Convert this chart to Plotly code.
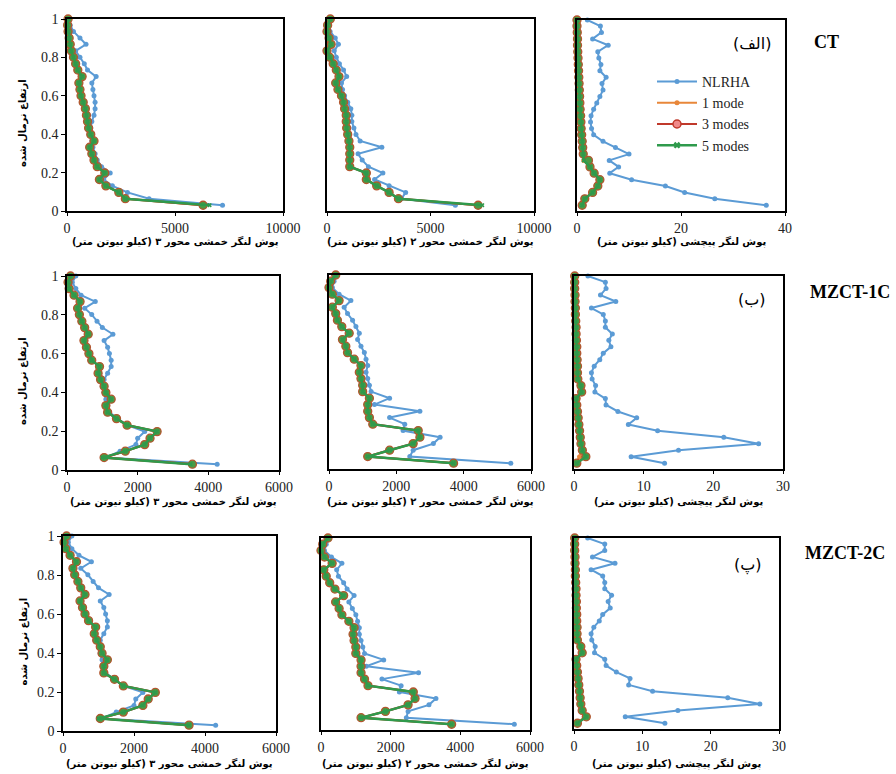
import plotly.graph_objects as go

# ---------------- data (values listed from bottom level to top level) ----------------
LEVELS = [0.03, 0.064, 0.097, 0.131, 0.164, 0.198, 0.231, 0.265, 0.298, 0.332,
          0.365, 0.399, 0.432, 0.466, 0.499, 0.533, 0.566, 0.6, 0.633, 0.667,
          0.7, 0.734, 0.767, 0.801, 0.834, 0.868, 0.901, 0.935, 0.968, 1.0]

# CT - axis 3 moment
p1_nlrha = [7200, 3800, 2800, 2100, 1700, 2000, 1600, 1400, 1300, 1200, 1150, 1100, 1100, 1150, 1250,
            1300, 1300, 1250, 1200, 1150, 1350, 950, 800, 600, 400, 880, 600, 300, 150, 100]
p1_m1 = [6250, 2700, 2400, 1800, 1500, 1750, 1400, 1250, 1150, 1050, 1250, 1100, 1000, 950, 900,
         850, 750, 650, 600, 550, 700, 500, 400, 300, 200, 150, 100, 50, 30, 50]
p1_m3 = [6300, 2700, 2400, 1800, 1500, 1750, 1400, 1250, 1150, 1050, 1250, 1100, 1000, 950, 900,
         850, 750, 650, 600, 550, 700, 500, 400, 300, 200, 150, 100, 50, 30, 50]
p1_m5 = [6600, 2700, 2400, 1800, 1500, 1750, 1400, 1250, 1150, 1050, 1250, 1100, 1000, 950, 900,
         850, 750, 650, 600, 550, 700, 500, 400, 300, 200, 150, 100, 50, 30, 50]

# CT - axis 2 moment
p2_nlrha = [6200, 3600, 3800, 3000, 2300, 2700, 2000, 1700, 1500, 2650, 1600, 1400, 1300, 1200, 1200,
            1150, 1000, 850, 750, 700, 950, 800, 600, 450, 350, 550, 400, 150, 100, 200]
p2_m1 = [7300, 3450, 3000, 2400, 1900, 1900, 1100, 1100, 1100, 1100, 1060, 1000, 950, 930, 930,
         850, 800, 700, 530, 420, 580, 450, 300, 130, 0, 200, 100, 0, 30, 160]
p2_m3 = [7300, 3450, 3000, 2400, 1900, 1900, 1100, 1100, 1100, 1100, 1060, 1000, 950, 930, 930,
         850, 800, 700, 530, 420, 580, 450, 300, 130, 0, 200, 100, 0, 30, 160]
p2_m5 = [7500, 3450, 3000, 2400, 1900, 1900, 1100, 1100, 1100, 1100, 1060, 1000, 950, 930, 930,
         850, 800, 700, 530, 420, 580, 450, 300, 130, 0, 200, 100, 0, 30, 160]

# CT - torsion
p3_nlrha = [36.4, 26.5, 20.7, 17, 10.5, 6.3, 8, 6.2, 10, 7.4, 5, 3.2, 2.8, 2.6, 2.7,
            3.2, 3.8, 4.4, 5, 4.8, 5.6, 4.4, 4.6, 4.2, 4, 6, 3, 4.7, 4.5, 2]
p3_m1 = [1.0, 1.4, 2.9, 3.9, 4.3, 3.2, 2.4, 1.3, 1.2, 1.1, 1.0, 0.9, 0.8, 0.75, 0.7,
         0.6, 0.55, 0.5, 0.45, 0.4, 0.35, 0.3, 0.25, 0.2, 0.15, 0.1, 0.1, 0.05, 0.0, 0.0]
p3_m3 = [1.0, 1.5, 3.0, 4.0, 4.4, 3.3, 2.5, 2.2, 1.2, 1.1, 1.0, 0.9, 0.8, 0.75, 0.7,
         0.6, 0.55, 0.5, 0.45, 0.4, 0.35, 0.3, 0.25, 0.2, 0.15, 0.1, 0.1, 0.05, 0.0, 0.0]
p3_m5 = [1.0, 1.5, 3.0, 4.0, 4.4, 3.3, 2.5, 1.3, 1.2, 1.1, 1.0, 0.9, 0.8, 0.75, 0.7,
         0.6, 0.55, 0.5, 0.45, 0.4, 0.35, 0.3, 0.25, 0.2, 0.15, 0.1, 0.1, 0.05, 0.0, 0.0]

# MZCT-1C - axis 3 moment
p4_nlrha = [4250, 1100, 1500, 1950, 2000, 2200, 1700, 1450, 1200, 1150, 1100, 1050, 1000, 1050, 1150,
            1250, 1250, 1200, 1150, 1050, 1300, 1000, 850, 700, 500, 800, 400, 250, 150, 250]
p4_m1 = [3550, 1050, 1650, 2200, 2350, 2550, 1700, 1400, 1150, 1100, 1250, 1100, 1050, 950, 880,
         920, 700, 620, 550, 480, 600, 500, 420, 350, 300, 370, 200, 60, 30, 100]
p4_m3 = [3550, 1050, 1650, 2200, 2350, 2550, 1700, 1400, 1150, 1100, 1250, 1100, 1050, 950, 880,
         920, 700, 620, 550, 480, 600, 500, 420, 350, 300, 370, 200, 60, 30, 100]
p4_m5 = [3500, 1000, 1650, 2200, 2350, 2550, 1700, 1400, 1150, 1100, 1250, 1100, 1050, 950, 880,
         920, 700, 620, 550, 480, 600, 500, 420, 350, 300, 370, 200, 60, 30, 100]

# MZCT-1C - axis 2 moment
p5_nlrha = [5400, 2400, 2500, 3100, 3300, 2200, 2250, 1800, 2700, 1350, 1800, 1250, 1200, 1150, 1100,
            1150, 1100, 1050, 950, 850, 900, 800, 700, 550, 450, 650, 300, 100, 150, 250]
p5_m1 = [3700, 1150, 1800, 2500, 2700, 2650, 1300, 1200, 1150, 1150, 1200, 1000, 1000, 950, 900,
         950, 750, 550, 500, 400, 600, 380, 250, 200, 100, 300, 100, 0, 50, 200]
p5_m3 = [3700, 1150, 1800, 2500, 2700, 2650, 1300, 1200, 1150, 1150, 1200, 1000, 1000, 950, 900,
         950, 750, 550, 500, 400, 600, 380, 250, 200, 100, 300, 100, 0, 50, 200]
p5_m5 = [3700, 1150, 1800, 2500, 2700, 2650, 1300, 1200, 1150, 1150, 1200, 1000, 1000, 950, 900,
         950, 750, 550, 500, 400, 600, 380, 250, 200, 100, 300, 100, 0, 50, 200]

# MZCT-1C - torsion
p6_nlrha = [13, 8.2, 15, 26.5, 21.5, 12, 7.8, 9, 6.3, 4.6, 4.5, 3, 3.1, 2.6, 2.5,
            2.9, 3.7, 4.2, 5.3, 5, 5.5, 4.5, 4.5, 4.2, 2.5, 6, 3.8, 4.6, 4.5, 2]
p6_m1 = [0.3, 0.8, 1.1, 1.0, 0.9, 0.8, 0.7, 0.6, 0.5, 0.4, 0.3, 1.1, 1.0, 0.55, 0.5,
         0.5, 0.45, 0.4, 0.4, 0.35, 0.3, 0.3, 0.25, 0.2, 0.2, 0.15, 0.15, 0.1, 0.1, 0.1]
p6_m3 = [0.4, 1.7, 1.2, 1.0, 0.9, 0.8, 0.7, 0.6, 0.5, 0.4, 0.3, 1.1, 1.0, 0.55, 0.5,
         0.5, 0.45, 0.4, 0.4, 0.35, 0.3, 0.3, 0.25, 0.2, 0.2, 0.15, 0.15, 0.1, 0.1, 0.1]
p6_m5 = [0.4, 1.7, 1.2, 1.0, 0.9, 0.8, 0.7, 0.6, 0.5, 0.4, 0.3, 1.1, 1.0, 0.55, 0.5,
         0.5, 0.45, 0.4, 0.4, 0.35, 0.3, 0.3, 0.25, 0.2, 0.2, 0.15, 0.15, 0.1, 0.1, 0.1]

# MZCT-2C - axis 3 moment
p7_nlrha = [4300, 1100, 1500, 2000, 2050, 2250, 1700, 1450, 1200, 1150, 1100, 1050, 1000, 1050, 1150,
            1250, 1250, 1200, 1150, 1050, 1300, 1000, 850, 700, 500, 800, 450, 250, 150, 250]
p7_m1 = [3550, 1050, 1700, 2250, 2400, 2600, 1700, 1450, 1150, 1150, 1250, 1100, 1050, 950, 880,
         920, 720, 620, 550, 480, 620, 500, 420, 330, 280, 380, 200, 80, 30, 100]
p7_m3 = [3550, 1050, 1700, 2250, 2400, 2600, 1700, 1450, 1150, 1150, 1250, 1100, 1050, 950, 880,
         920, 720, 620, 550, 480, 620, 500, 420, 330, 280, 380, 200, 80, 30, 100]
p7_m5 = [3550, 1000, 1700, 2250, 2400, 2600, 1700, 1450, 1150, 1150, 1250, 1100, 1050, 950, 880,
         920, 720, 620, 550, 480, 620, 500, 420, 330, 280, 380, 200, 80, 30, 100]

# MZCT-2C - axis 2 moment
p8_nlrha = [5550, 2450, 2500, 3100, 3300, 2250, 2300, 1750, 2800, 1300, 1800, 1250, 1200, 1150, 1100,
            1100, 1050, 1000, 900, 800, 950, 750, 650, 500, 450, 600, 300, 100, 150, 250]
p8_m1 = [3750, 1150, 1850, 2500, 2700, 2650, 1350, 1250, 1150, 1150, 1150, 1000, 1000, 950, 920,
         950, 800, 600, 520, 420, 650, 400, 250, 150, 80, 320, 100, 0, 50, 200]
p8_m3 = [3750, 1150, 1850, 2500, 2700, 2650, 1350, 1250, 1150, 1150, 1150, 1000, 1000, 950, 920,
         950, 800, 600, 520, 420, 650, 400, 250, 150, 80, 320, 100, 0, 50, 200]
p8_m5 = [3750, 1150, 1850, 2500, 2700, 2650, 1350, 1250, 1150, 1150, 1150, 1000, 1000, 950, 920,
         950, 800, 600, 520, 420, 650, 400, 250, 150, 80, 320, 100, 0, 50, 200]

# MZCT-2C - torsion
p9_nlrha = [13.3, 7.5, 15.2, 27.2, 22.5, 11.5, 8, 8.2, 6.2, 4.7, 4.5, 3, 3.1, 2.6, 2.5,
            2.9, 3.7, 4.2, 5.3, 5, 5.5, 4.5, 4.5, 4.2, 2.5, 6, 2.7, 4.5, 4.5, 2]
p9_m1 = [0.4, 1.6, 1.2, 1.0, 0.9, 0.8, 0.7, 0.6, 0.5, 0.4, 0.3, 1.2, 1.0, 0.5, 0.45,
         0.45, 0.4, 0.4, 0.35, 0.35, 0.3, 0.3, 0.25, 0.2, 0.2, 0.15, 0.15, 0.1, 0.1, 0.1]
p9_m3 = [0.5, 1.8, 1.2, 1.0, 0.9, 0.8, 0.7, 0.6, 0.5, 0.4, 0.3, 1.2, 1.0, 0.5, 0.45,
         0.45, 0.4, 0.4, 0.35, 0.35, 0.3, 0.3, 0.25, 0.2, 0.2, 0.15, 0.15, 0.1, 0.1, 0.1]
p9_m5 = [0.5, 1.8, 1.2, 1.0, 0.9, 0.8, 0.7, 0.6, 0.5, 0.4, 0.3, 1.2, 1.0, 0.5, 0.45,
         0.45, 0.4, 0.4, 0.35, 0.35, 0.3, 0.3, 0.25, 0.2, 0.2, 0.15, 0.15, 0.1, 0.1, 0.1]

SERIES_NAMES = ["NLRHA", "1 mode", "3 modes", "5 modes"]
Y_TICKS = [0, 0.2, 0.4, 0.6, 0.8, 1]
X_TITLE_3 = "پوش لنگر خمشی محور ۳ (کیلو نیوتن متر)"
X_TITLE_2 = "پوش لنگر خمشی محور ۲ (کیلو نیوتن متر)"
X_TITLE_T = "پوش لنگر پیچشی (کیلو نیوتن متر)"
Y_TITLE = "ارتفاع نرمال شده"
ROW_LABELS = ["CT", "MZCT-1C", "MZCT-2C"]
PANEL_TAGS = ["(الف)", "(ب)", "(پ)"]

# ---------------- styling / layout ----------------
W, H = 896, 774
C_BLUE = "#5b9bd5"
C_ORANGE = "#e8873a"
C_RED = "#c0392b"
C_GREEN = "#2f9a4c"
SERIF = "Liberation Serif, Times New Roman, serif"
ARAB = "DejaVu Sans, Noto Sans, sans-serif"

panels = [
    dict(d=[p1_nlrha, p1_m1, p1_m3, p1_m5], xmax=10000, dt=5000, box=(67, 283, 19, 211), xt=X_TITLE_3, xty=242),
    dict(d=[p2_nlrha, p2_m1, p2_m3, p2_m5], xmax=10000, dt=5000, box=(327, 534, 19, 211), xt=X_TITLE_2, xty=242),
    dict(d=[p3_nlrha, p3_m1, p3_m3, p3_m5], xmax=40, dt=20, box=(577, 785, 20, 211), xt=X_TITLE_T, xty=242),
    dict(d=[p4_nlrha, p4_m1, p4_m3, p4_m5], xmax=6000, dt=2000, box=(67, 279, 276, 470), xt=X_TITLE_3, xty=501),
    dict(d=[p5_nlrha, p5_m1, p5_m3, p5_m5], xmax=6000, dt=2000, box=(329, 531, 275, 469), xt=X_TITLE_2, xty=501),
    dict(d=[p6_nlrha, p6_m1, p6_m3, p6_m5], xmax=30, dt=10, box=(574, 783, 276, 469), xt=X_TITLE_T, xty=501),
    dict(d=[p7_nlrha, p7_m1, p7_m3, p7_m5], xmax=6000, dt=2000, box=(63, 276, 536, 731), xt=X_TITLE_3, xty=763),
    dict(d=[p8_nlrha, p8_m1, p8_m3, p8_m5], xmax=6000, dt=2000, box=(321, 530, 538, 730), xt=X_TITLE_2, xty=763),
    dict(d=[p9_nlrha, p9_m1, p9_m3, p9_m5], xmax=30, dt=10, box=(574, 779, 538, 729), xt=X_TITLE_T, xty=763),
]

fig = go.Figure()
annotations = []


def py(pix):
    return 1 - pix / H


for i, p in enumerate(panels, start=1):
    sfx = "" if i == 1 else str(i)
    xa, ya = "x" + sfx, "y" + sfx
    nl, m1, m3, m5 = p["d"]
    common = dict(xaxis=xa, yaxis=ya, showlegend=False, cliponaxis=False, mode="lines+markers", hoverinfo="x+y")
    fig.add_trace(go.Scatter(x=nl, y=LEVELS, name=SERIES_NAMES[0], line=dict(color=C_BLUE, width=2),
                             marker=dict(size=5, color=C_BLUE), **common))
    fig.add_trace(go.Scatter(x=m1, y=LEVELS, name=SERIES_NAMES[1], line=dict(color=C_ORANGE, width=2),
                             marker=dict(size=5, color=C_ORANGE), **common))
    fig.add_trace(go.Scatter(x=m3, y=LEVELS, name=SERIES_NAMES[2], line=dict(color=C_RED, width=2.2),
                             marker=dict(size=8, color="#4a9a45", line=dict(color="#b4552e", width=1.3)), **common))
    fig.add_trace(go.Scatter(x=m5, y=LEVELS, name=SERIES_NAMES[3], line=dict(color=C_GREEN, width=2.5),
                             marker=dict(size=4, color=C_GREEN, symbol="x"), **common))

    l, r, t, b = p["box"]
    col = (i - 1) % 3
    fig.layout["xaxis" + sfx] = dict(
        domain=[l / W, r / W], anchor=ya, range=[0, p["xmax"]], tick0=0, dtick=p["dt"], tickformat="d",
        showline=True, linecolor="black", linewidth=1.5, mirror=True, ticks="outside", ticklen=3,
        tickcolor="black", showgrid=False, zeroline=False, automargin=False,
        tickfont=dict(family=SERIF, size=14, color="#222"))
    fig.layout["yaxis" + sfx] = dict(
        domain=[py(b), py(t)], anchor=xa, range=[0, 1], tickvals=Y_TICKS,
        showline=True, linecolor="black", linewidth=1.5, mirror=True,
        ticks="outside" if col == 0 else "", ticklen=4, tickcolor="black",
        showticklabels=(col == 0), showgrid=False, zeroline=False, automargin=False,
        tickfont=dict(family=SERIF, size=14, color="#222"))
    annotations.append(dict(text="<b>" + p["xt"] + "</b>", x=(l + r) / 2 / W, y=py(p["xty"]), xref="paper",
                            yref="paper", showarrow=False, xanchor="center", yanchor="middle",
                            font=dict(family=ARAB, size=10, color="black")))
    if col == 0:
        annotations.append(dict(text="<b>" + Y_TITLE + "</b>", x=23 / W, y=py((t + b) / 2 + 8), xref="paper",
                                yref="paper", showarrow=False, textangle=-90, xanchor="center",
                                yanchor="middle", font=dict(family=ARAB, size=10, color="black")))

# legend-only entries
fig.add_trace(go.Scatter(x=[None], y=[None], name=SERIES_NAMES[0], mode="lines+markers",
                         line=dict(color=C_BLUE, width=2), marker=dict(size=5, color=C_BLUE), xaxis="x3", yaxis="y3"))
fig.add_trace(go.Scatter(x=[None], y=[None], name=SERIES_NAMES[1], mode="lines+markers",
                         line=dict(color=C_ORANGE, width=2), marker=dict(size=5, color=C_ORANGE), xaxis="x3", yaxis="y3"))
fig.add_trace(go.Scatter(x=[None], y=[None], name=SERIES_NAMES[2], mode="lines+markers",
                         line=dict(color=C_RED, width=2.2),
                         marker=dict(size=8, color="#f08a8a", line=dict(color=C_RED, width=1.5)), xaxis="x3", yaxis="y3"))
fig.add_trace(go.Scatter(x=[None], y=[None], name=SERIES_NAMES[3], mode="lines+markers",
                         line=dict(color=C_GREEN, width=2.5),
                         marker=dict(size=6, color=C_GREEN, symbol="x"), xaxis="x3", yaxis="y3"))

row_label_pos = [(826, 42), (850, 292), (845, 553)]
tag_pos = [(752, 43), (752, 299), (748, 565)]
for (lbl, (lx, ly)), (tag, (tx, ty)) in zip(zip(ROW_LABELS, row_label_pos), zip(PANEL_TAGS, tag_pos)):
    annotations.append(dict(text="<b>" + lbl + "</b>", x=lx / W, y=py(ly), xref="paper", yref="paper",
                            showarrow=False, xanchor="center", yanchor="middle",
                            font=dict(family=SERIF, size=18, color="black")))
    annotations.append(dict(text=tag, x=tx / W, y=py(ty), xref="paper", yref="paper",
                            showarrow=False, xanchor="center", yanchor="middle",
                            font=dict(family=ARAB, size=16, color="black")))

fig.update_layout(
    width=W, height=H, margin=dict(l=0, r=0, t=0, b=0, autoexpand=False),
    paper_bgcolor="white", plot_bgcolor="white",
    showlegend=True,
    legend=dict(x=652 / W, y=py(66), xanchor="left", yanchor="top", bgcolor="rgba(0,0,0,0)",
                font=dict(family=SERIF, size=14, color="#222"), tracegroupgap=0, itemwidth=40),
    annotations=annotations,
)

fig.write_html("out.html", config={"displayModeBar": False},
               post_script="document.body.style.margin='0';document.body.style.overflow='hidden';")
